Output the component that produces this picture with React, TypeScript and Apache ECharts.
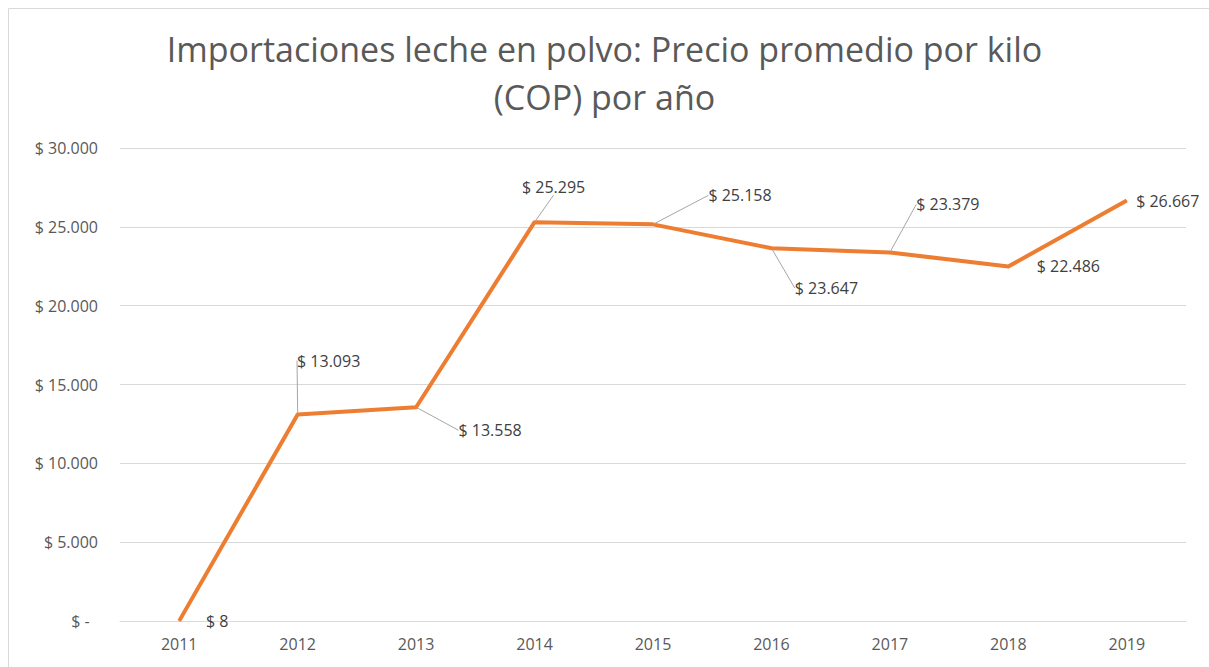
import React, { useEffect, useRef } from "react";
import * as echarts from "echarts";

const years = ["2011", "2012", "2013", "2014", "2015", "2016", "2017", "2018", "2019"];
const prices = [8, 13093, 13558, 25295, 25158, 23647, 23379, 22486, 26667];
const yTicks = [0, 5000, 10000, 15000, 20000, 25000, 30000];
const titleLines = ["Importaciones leche en polvo: Precio promedio por kilo", "(COP) por año"];

// label placement per point: [dx, dy] offset from the point, and whether a leader line is drawn
const labelOffsets: [number, number, boolean][] = [
  [38, 0, false],
  [31, -54, true],
  [74, 23, true],
  [19, -35, true],
  [87, -29, true],
  [55, 40, true],
  [58, -48, true],
  [60, 0, false],
  [41, 0, false],
];

const fmt = (v: number) => {
  if (v === 0) return "$ -\u00A0\u00A0";
  return "$ " + Math.round(v).toString().replace(/\B(?=(\d{3})+(?!\d))/g, ".");
};

export default function App() {
  const ref = useRef<HTMLDivElement>(null);
  useEffect(() => {
    const chart = echarts.init(ref.current!, null, { renderer: "svg" });
    const font = "'Open Sans', 'Noto Sans', sans-serif";
    chart.setOption({
      animation: false,
      backgroundColor: "#ffffff",
      title: {
        text: titleLines.join("\n"),
        left: "center",
        top: 20,
        textStyle: {
          fontFamily: font,
          fontSize: 34,
          fontWeight: "normal",
          color: "#595959",
          lineHeight: 48,
        },
      },
      graphic: [
        {
          type: "rect",
          shape: { x: 8.5, y: 8.5, width: 1400, height: 800 },
          style: { fill: "none", stroke: "#d9d9d9", lineWidth: 1 },
          silent: true,
          z: -10,
        },
      ],
      grid: { left: 120, right: 23, top: 148, bottom: 46, containLabel: false },
      xAxis: {
        type: "category",
        data: years,
        boundaryGap: true,
        axisLine: { show: true, lineStyle: { color: "#d9d9d9", width: 1 } },
        axisTick: { show: false },
        axisLabel: { fontFamily: font, fontSize: 16, color: "#595959", margin: 15 },
      },
      yAxis: {
        type: "value",
        min: 0,
        max: 30000,
        interval: 5000,
        axisLine: { show: false },
        axisTick: { show: false },
        splitLine: { lineStyle: { color: "#d9d9d9", width: 1 } },
        axisLabel: {
          fontFamily: font,
          fontSize: 16,
          color: "#595959",
          margin: 22,
          formatter: (v: number) => (yTicks.includes(v) ? fmt(v) : ""),
        },
      },
      series: [
        {
          type: "line",
          data: prices.map((v, i) => ({
            value: v,
            labelLine: { show: labelOffsets[i][2] },
          })),
          lineStyle: { color: "#ED7D31", width: 4, join: "round" },
          itemStyle: { color: "#ED7D31" },
          symbol: "circle",
          symbolSize: 1,
          showSymbol: true,
          label: {
            show: true,
            position: "inside",
            fontFamily: font,
            fontSize: 16,
            color: "#404040",
            formatter: (p: any) => fmt(p.value),
          },
          labelLine: {
            show: true,
            lineStyle: { color: "#a6a6a6", width: 1 },
          },
          labelLayout: (p: any) => ({
            dx: labelOffsets[p.dataIndex][0],
            dy: labelOffsets[p.dataIndex][1],
          }),
        },
      ],
    });
    return () => chart.dispose();
  }, []);
  return (
    <div
      ref={ref}
      style={{ position: "absolute", left: 0, top: 0, width: 1209, height: 667 }}
    />
  );
}
